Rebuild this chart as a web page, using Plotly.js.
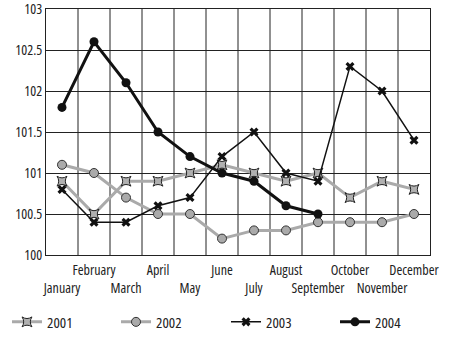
<!DOCTYPE html>
<html>
<head>
<meta charset="utf-8">
<script src="https://cdn.plot.ly/plotly-3.0.1.min.js"></script>
<style>html,body{margin:0;padding:0;background:#fff;}#chart{width:450px;height:338px;}
#chart svg text{font-stretch:75% !important;}</style>
</head>
<body>
<div id="chart"></div>
<script>
const months = ["January","February","March","April","May","June","July","August","September","October","November","December"];
const v2001 = [100.9,100.5,100.9,100.9,101.0,101.1,101.0,100.9,101.0,100.7,100.9,100.8];
const v2002 = [101.1,101.0,100.7,100.5,100.5,100.2,100.3,100.3,100.4,100.4,100.4,100.5];
const v2003 = [100.8,100.4,100.4,100.6,100.7,101.2,101.5,101.0,100.9,102.3,102.0,101.4];
const v2004 = [101.8,102.6,102.1,101.5,101.2,101.0,100.9,100.6,100.5];
const yTicks = [100,100.5,101,101.5,102,102.5,103];
const yTickText = ["100","100.5","101","101.5","102","102.5","103"];

const tickText = months.map((m,i)=> i%2===0 ? "<br>"+m : m);
const font = "Open Sans, sans-serif";

const traces = [
  {x: months, y: v2001, name: "2001", mode: "lines+markers", legend: "legend",
   line: {color: "#aaaaaa", width: 3},
   marker: {symbol: "star-square", size: 9, color: "#b0b0b0", line: {color: "#222", width: 1}}},
  {x: months, y: v2002, name: "2002", mode: "lines+markers", legend: "legend2",
   line: {color: "#aaaaaa", width: 3},
   marker: {symbol: "circle", size: 9, color: "#aaaaaa", line: {color: "#333", width: 1}}},
  {x: months, y: v2003, name: "2003", mode: "lines+markers", legend: "legend3",
   line: {color: "#111", width: 1.5},
   marker: {symbol: "x", size: 8, color: "#111", line: {color: "#111", width: 0}}},
  {x: months.slice(0, v2004.length), y: v2004, name: "2004", mode: "lines+markers", legend: "legend4",
   line: {color: "#111", width: 3},
   marker: {symbol: "circle", size: 9, color: "#111"}}
];

function leg(px) {
  return {orientation: "h", xref: "container", yref: "container", x: px / 450, y: 0.047,
          xanchor: "left", yanchor: "middle", font: {family: font, size: 15, color: "#222"},
          itemwidth: 30, bgcolor: "rgba(0,0,0,0)"};
}

const layout = {
  width: 450, height: 338,
  margin: {l: 46, r: 20, t: 9, b: 83},
  paper_bgcolor: "#fff", plot_bgcolor: "#fff",
  font: {family: font, size: 14, color: "#222"},
  showlegend: true,
  legend: leg(7), legend2: leg(116), legend3: leg(226), legend4: leg(335),
  xaxis: {
    type: "category", tickmode: "array", tickvals: months, ticktext: tickText, tickangle: 0,
    ticklabelstandoff: 2,
    showgrid: false, ticks: "", showline: true, linecolor: "#222", linewidth: 1, mirror: true,
    range: [-0.5, 11.5], tickfont: {family: font, size: 14, color: "#222"}
  },
  yaxis: {
    range: [100, 103], tickmode: "array", tickvals: yTicks, ticktext: yTickText,
    ticklabeloverflow: "allow",
    showgrid: true, gridcolor: "#222", gridwidth: 1, zeroline: false,
    showline: true, linecolor: "#222", linewidth: 1, mirror: true, ticks: "",
    tickfont: {family: font, size: 14, color: "#222"}
  },
  shapes: months.slice(1).map((m,i)=>({type:"line", xref:"x", yref:"paper", x0:i+0.5, x1:i+0.5, y0:0, y1:1, line:{color:"#222", width:1}, layer:"below"}))
};

Plotly.newPlot("chart", traces, layout, {displayModeBar: false, staticPlot: true});
</script>
</body>
</html>
